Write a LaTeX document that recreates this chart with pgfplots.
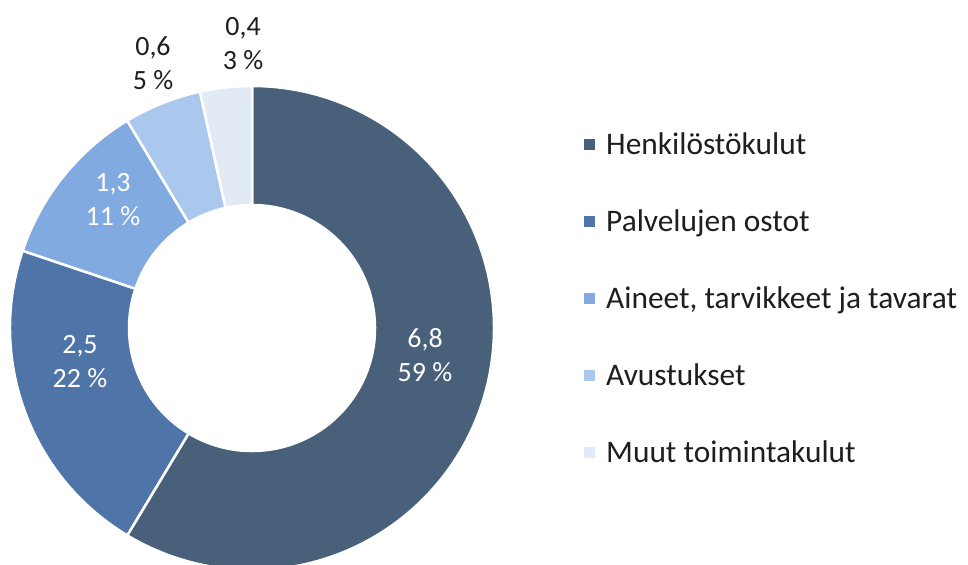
\documentclass[border=0pt]{standalone}
\usepackage{pgfplots}
\pgfplotsset{compat=1.18}
\usepackage{pgfplotstable}
\usepackage{fontspec}
\setmainfont{Carlito}
\definecolor{c1}{HTML}{48607A}
\definecolor{c2}{HTML}{4E74A8}
\definecolor{c3}{HTML}{80AAE0}
\definecolor{c4}{HTML}{AAC8EE}
\definecolor{c5}{HTML}{E1EAF5}
\definecolor{txt}{HTML}{1E1E1E}
\pgfplotstableread{
name value color tcol lx ly
Henkilöstökulut 6.8 c1 white 425 210
{Palvelujen ostot} 2.5 c2 white 80 203
{Aineet, tarvikkeet ja tavarat} 1.3 c3 white 113 365
Avustukset 0.6 c4 txt 153 502
{Muut toimintakulut} 0.4 c5 txt 243 521
}\data
\begin{document}
\begin{tikzpicture}[lbl/.style={align=center, font=\fontsize{28}{34}\selectfont, inner sep=0pt},
  leg/.style={font=\fontsize{31.5}{36}\selectfont, inner sep=0pt}]
\pgfplotstablegetrowsof{\data}
\pgfmathtruncatemacro\N{\pgfplotsretval-1}
\def\total{0}
\pgfplotsforeachungrouped \i in {0,...,\N}{\pgfplotstablegetelem{\i}{value}\of\data \pgfmathsetmacro\total{\total+\pgfplotsretval}}
\def\cx{252}\def\cy{237}\def\Rout{242}\def\Rin{123}
\begin{axis}[x=1bp, y=1bp, xmin=0, xmax=968, ymin=0, ymax=565, hide axis, clip=false]
\def\cum{0}
\pgfplotsforeachungrouped \i in {0,...,\N}{%
  \pgfplotstablegetelem{\i}{value}\of\data\let\v\pgfplotsretval
  \pgfplotstablegetelem{\i}{color}\of\data\let\c\pgfplotsretval
  \pgfplotstablegetelem{\i}{tcol}\of\data\let\tc\pgfplotsretval
  \pgfplotstablegetelem{\i}{lx}\of\data\let\lx\pgfplotsretval
  \pgfplotstablegetelem{\i}{ly}\of\data\let\ly\pgfplotsretval
  \pgfplotstablegetelem{\i}{name}\of\data\let\nm\pgfplotsretval
  \pgfmathsetmacro\a{90-\cum/\total*360}
  \pgfmathsetmacro\cum{\cum+\v}
  \pgfmathsetmacro\b{90-\cum/\total*360}
  \pgfmathsetmacro\xa{\cx+\Rout*cos(\a)}\pgfmathsetmacro\ya{\cy+\Rout*sin(\a)}
  \pgfmathsetmacro\xb{\cx+\Rin*cos(\b)}\pgfmathsetmacro\yb{\cy+\Rin*sin(\b)}
  \pgfmathtruncatemacro\p{round(\v/\total*100)}
  \pgfmathtruncatemacro\vi{\v}
  \pgfmathtruncatemacro\vd{round(10*(\v-\vi))}
  \pgfmathsetmacro\gy{420-77*\i}
  \pgfmathsetmacro\gya{\gy-5.5}\pgfmathsetmacro\gyb{\gy+5.5}
  \pgfmathsetmacro\gyt{\gy-10}
  \edef\temp{%
    \noexpand\fill[\c, draw=white, line width=2.5bp] (axis cs:\xa,\ya) arc[start angle=\a, end angle=\b, radius=\Rout bp] -- (axis cs:\xb,\yb) arc[start angle=\b, end angle=\a, radius=\Rin bp] -- cycle;
    \noexpand\node[lbl, text=\tc] at (axis cs:\lx,\ly) {\vi,\vd\noexpand\\\p\noexpand~\noexpand\%};
    \noexpand\fill[\c] (axis cs:584,\gya) rectangle (axis cs:595,\gyb);
    \noexpand\node[leg, text=txt, anchor=base west] at (axis cs:606,\gyt) {\nm};
  }%
  \temp
}
\end{axis}
\pgfresetboundingbox
\useasboundingbox (current axis.south west) rectangle (current axis.north east);
\end{tikzpicture}
\end{document}
